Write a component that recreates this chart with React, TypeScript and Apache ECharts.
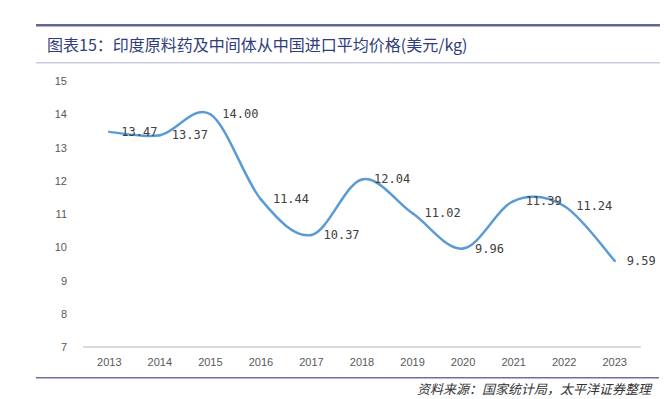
import React, { useEffect, useRef } from "react";
import * as echarts from "echarts";

const titleText = "图表15：印度原料药及中间体从中国进口平均价格(美元/kg)";
const sourceText = "资料来源：国家统计局，太平洋证券整理";
const years = ["2013", "2014", "2015", "2016", "2017", "2018", "2019", "2020", "2021", "2022", "2023"];
const prices = [13.47, 13.37, 14.0, 11.44, 10.37, 12.04, 11.02, 9.96, 11.39, 11.24, 9.59];
const yMin = 7;
const yMax = 15;
const yInterval = 1;

export default function App() {
  const ref = useRef<HTMLDivElement>(null);
  useEffect(() => {
    if (!ref.current) return;
    const chart = echarts.init(ref.current, undefined, { renderer: "svg" });
    const n = prices.length;
    chart.setOption({
      animation: false,
      backgroundColor: "#ffffff",
      grid: { left: 84, right: 30, top: 81, bottom: 52 },
      xAxis: {
        type: "category",
        data: years,
        boundaryGap: true,
        axisLine: { lineStyle: { color: "#d9d9d9", width: 2 } },
        axisTick: { show: false },
        axisLabel: { color: "#595959", fontSize: 11, margin: 9, fontFamily: "Liberation Sans, Arial" },
      },
      yAxis: {
        type: "value",
        min: yMin,
        max: yMax,
        interval: yInterval,
        axisLine: { show: false },
        axisTick: { show: false },
        splitLine: { show: false },
        axisLabel: { color: "#595959", fontSize: 11, margin: 17, fontFamily: "Liberation Sans, Arial" },
      },
      series: [
        {
          type: "custom",
          data: prices.map((v, i) => [i, v]),
          silent: true,
          z: 2,
          renderItem: (params: any, api: any) => {
            const i = params.dataIndex;
            if (i >= n - 1) return null;
            const pt = (k: number) => {
              const kk = Math.max(0, Math.min(n - 1, k));
              return api.coord([kk, prices[kk]]);
            };
            const p0 = pt(i - 1);
            const p1 = pt(i);
            const p2 = pt(i + 1);
            const p3 = pt(i + 2);
            const t = 6;
            return {
              type: "bezierCurve",
              shape: {
                x1: p1[0],
                y1: p1[1],
                cpx1: p1[0] + (p2[0] - p0[0]) / t,
                cpy1: p1[1] + (p2[1] - p0[1]) / t,
                cpx2: p2[0] - (p3[0] - p1[0]) / t,
                cpy2: p2[1] - (p3[1] - p1[1]) / t,
                x2: p2[0],
                y2: p2[1],
              },
              style: { stroke: "#5B9BD5", lineWidth: 2.5, fill: "none", lineCap: "round" },
            };
          },
        },
        {
          type: "line",
          data: prices,
          symbol: "circle",
          symbolSize: 2,
          showSymbol: true,
          showAllSymbol: true,
          silent: true,
          z: 3,
          lineStyle: { width: 0, color: "rgba(0,0,0,0)" },
          itemStyle: { color: "rgba(0,0,0,0)", borderWidth: 0 },
          label: {
            show: true,
            position: "right",
            distance: 11,
            color: "#404040",
            fontSize: 12,
            fontFamily: "DejaVu Sans Mono, monospace",
            formatter: (p: any) => Number(p.value).toFixed(2),
          },
        },
      ],
      graphic: [
        { type: "rect", shape: { x: 36, y: 24, width: 624, height: 2.5 }, style: { fill: "#63668f" } },
        {
          type: "text",
          x: 47,
          y: 44,
          style: {
            text: titleText,
            fill: "#2f3d7c",
            fontSize: 16,
            fontFamily: "Noto Sans CJK SC",
            verticalAlign: "middle",
          },
        },
        { type: "rect", shape: { x: 36, y: 62, width: 624, height: 1.5 }, style: { fill: "#c9cbe2" } },
        { type: "rect", shape: { x: 36, y: 377, width: 623, height: 1.5 }, style: { fill: "#6f7099" } },
        {
          type: "text",
          x: 651,
          y: 388,
          style: {
            text: sourceText,
            fill: "#333333",
            fontSize: 13,
            fontStyle: "italic",
            fontFamily: "Noto Sans CJK SC",
            align: "right",
            verticalAlign: "middle",
          },
        },
      ],
    });
    return () => chart.dispose();
  }, []);
  return <div ref={ref} style={{ position: "fixed", left: 0, top: 0, width: 670, height: 399 }} />;
}
